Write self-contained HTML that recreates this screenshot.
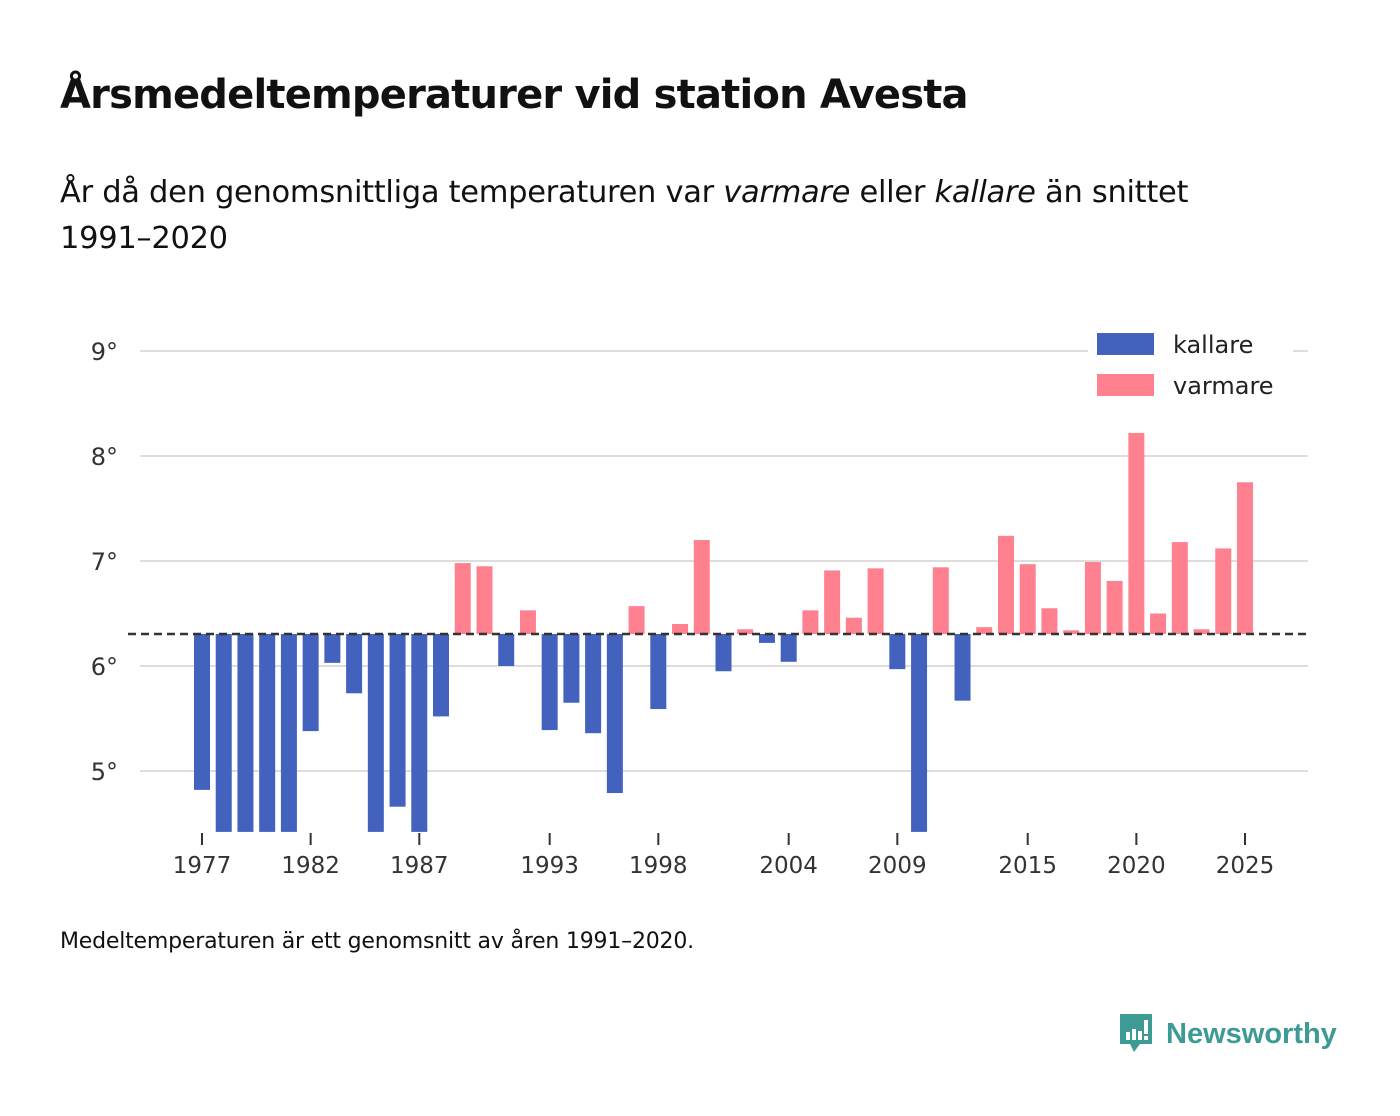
<!DOCTYPE html>
<html><head><meta charset="utf-8">
<style>
body{margin:0;width:1400px;height:1116px;background:#fff;font-family:"DejaVu Sans","Liberation Sans",sans-serif;color:#111;position:relative;overflow:hidden}
.abs{position:absolute}
</style></head><body>
<div class="abs" style="left:60px;top:72px;font-size:40px;font-weight:bold;letter-spacing:-0.8px">Årsmedeltemperaturer vid station Avesta</div>
<div class="abs" style="left:60px;top:170px;font-size:30.5px;line-height:46px;width:1200px;letter-spacing:-0.3px">År då den genomsnittliga temperaturen var <i>varmare</i> eller <i>kallare</i> än snittet 1991–2020</div>
<svg class="abs" style="left:0;top:0" width="1400" height="1116" id="chart"></svg>
<div class="abs" style="left:60px;top:929px;font-size:22px;letter-spacing:-0.2px">Medeltemperaturen är ett genomsnitt av åren 1991–2020.</div>
<div class="abs" style="left:1118px;top:1012px;display:flex;align-items:center">
<svg width="36" height="44"><path d="M2 2h32v30h-12l-6 8-4-8H2z" fill="#3d9a95"/><rect x="8" y="20" width="4" height="8" fill="#fff"/><rect x="14" y="17" width="4" height="11" fill="#fff"/><rect x="20" y="19" width="4" height="9" fill="#fff"/><rect x="26" y="8" width="4" height="14" fill="#fff"/><rect x="26" y="24" width="4" height="4" fill="#fff"/></svg>
<span style="color:#3d9a95;font-size:29px;font-weight:bold;margin-left:12px;font-family:'Liberation Sans',sans-serif">Newsworthy</span></div>
<script>
const years=[1977,1978,1979,1980,1981,1982,1983,1984,1985,1986,1987,1988,1989,1990,1991,1992,1993,1994,1995,1996,1997,1998,1999,2000,2001,2002,2003,2004,2005,2006,2007,2008,2009,2010,2011,2012,2013,2014,2015,2016,2017,2018,2019,2020,2021,2022,2023,2024,2025];
const temps=[4.82,4.2,4.2,4.2,4.2,5.38,6.03,5.74,4.2,4.66,4.2,5.52,6.98,6.95,6.0,6.53,5.39,5.65,5.36,4.79,6.57,5.59,6.40,7.2,5.95,6.35,6.22,6.04,6.53,6.91,6.46,6.93,5.97,4.2,6.94,5.67,6.37,7.24,6.97,6.55,6.34,6.99,6.81,8.22,6.50,7.18,6.35,7.12,7.75];
const baseline=6.305;
const yTicks=[5,6,7,8,9];
const xTicks=[1977,1982,1987,1993,1998,2004,2009,2015,2020,2025];
const svg=document.getElementById('chart');const NS='http://www.w3.org/2000/svg';
const yMin=4.42;
const y=v=>666-(v-6)*105;
const x=yr=>202+(yr-1977)*(1043/48);
function mk(t,a){const e=document.createElementNS(NS,t);for(const k in a)e.setAttribute(k,a[k]);svg.appendChild(e);return e;}
yTicks.forEach(t=>{
 const g=mk('line',{x1:140,x2:1308,y1:y(t),y2:y(t),stroke:'#ddd','stroke-width':2});
 
 
 const l=mk('text',{x:118,y:y(t)+9,'text-anchor':'end','font-size':24,fill:'#333','font-family':'DejaVu Sans,sans-serif'});l.textContent=t+'°';
 
 
});
years.forEach((yr,i)=>{
 const v=Math.max(temps[i],yMin);const top=Math.min(y(v),y(baseline)),bot=Math.max(y(v),y(baseline));
 const r=mk('rect',{x:x(yr)-8,y:top,width:16,height:bot-top,fill:temps[i]<baseline?'#4262be':'#ff808f'});
 
 
});
const bl=mk('line',{x1:128,x2:1310,y1:y(baseline),y2:y(baseline),stroke:'#333','stroke-width':2.5,'stroke-dasharray':'8,5'});


xTicks.forEach(t=>{
 const tk=mk('line',{x1:x(t),x2:x(t),y1:833,y2:845,stroke:'#333','stroke-width':2});
 
 
 const l=mk('text',{x:x(t),y:873,'text-anchor':'middle','font-size':23,fill:'#333','font-family':'DejaVu Sans,sans-serif'});l.textContent=t;
 
 
});
const lb=mk('rect',{x:1088,y:326,width:205,height:78,fill:'#fff'});


[['kallare','#4262be',333],['varmare','#ff808f',374]].forEach(([n,c,yy])=>{
 const s=mk('rect',{x:1097,y:yy,width:57,height:22,fill:c});
 
 
 const t=mk('text',{x:1173,y:yy+20,'font-size':24,fill:'#222','font-family':'DejaVu Sans,sans-serif'});t.textContent=n;
 
 
});
</script>
</body></html>
